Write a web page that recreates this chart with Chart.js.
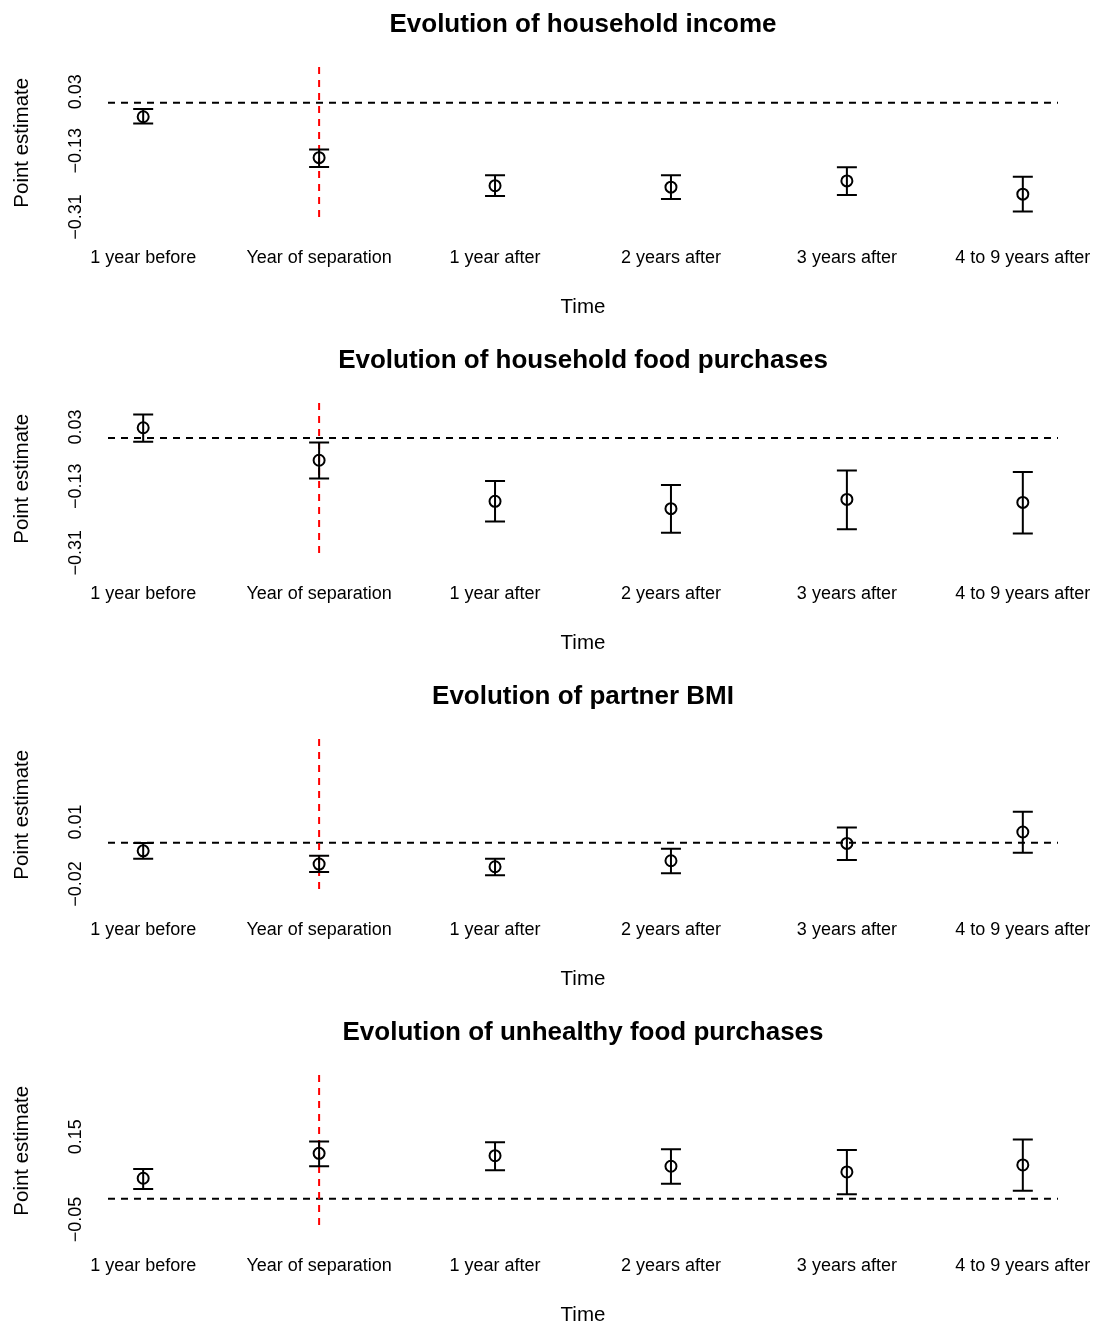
<!DOCTYPE html>
<html>
<head>
<meta charset="utf-8">
<script src="https://cdn.jsdelivr.net/npm/chart.js@4/dist/chart.umd.min.js"></script>
<style>
html,body{margin:0;padding:0;background:#ffffff;overflow:hidden;width:1096px;height:1328px;}
.panel{position:absolute;left:0;width:1096px;height:336px;}
canvas{display:block;}
</style>
</head>
<body>
<div class="panel" style="top:0px"><canvas id="c0" width="1096" height="336"></canvas></div>
<div class="panel" style="top:336px"><canvas id="c1" width="1096" height="336"></canvas></div>
<div class="panel" style="top:672px"><canvas id="c2" width="1096" height="336"></canvas></div>
<div class="panel" style="top:1008px"><canvas id="c3" width="1096" height="336"></canvas></div>
<script>
// ---- Data ----
const categories = ["1 year before", "Year of separation", "1 year after", "2 years after", "3 years after", "4 to 9 years after"];
const panelTitles = ["Evolution of household income", "Evolution of household food purchases", "Evolution of partner BMI", "Evolution of unhealthy food purchases"];
const xAxisTitle = "Time";
const yAxisTitle = "Point estimate";

const incomeEst  = [-0.038, -0.149, -0.225, -0.229, -0.212, -0.248];
const incomeLow  = [-0.056, -0.174, -0.253, -0.261, -0.250, -0.295];
const incomeHigh = [-0.017, -0.127, -0.197, -0.197, -0.175, -0.201];
const incomeTicks = [0.03, -0.13, -0.31];
const incomeRange = [-0.314, 0.097];

const foodEst  = [0.028, -0.060, -0.171, -0.191, -0.166, -0.174];
const foodLow  = [-0.010, -0.109, -0.226, -0.256, -0.247, -0.258];
const foodHigh = [0.064, -0.012, -0.116, -0.127, -0.088, -0.092];
const foodTicks = [0.03, -0.13, -0.31];
const foodRange = [-0.315, 0.095];

const bmiEst  = [-0.0039, -0.0103, -0.0116, -0.0087, -0.0003, 0.0052];
const bmiLow  = [-0.0077, -0.0142, -0.0157, -0.0148, -0.0084, -0.0048];
const bmiHigh = [-0.0001, -0.0063, -0.0077, -0.0029, 0.0074, 0.0150];
const bmiTicks = [0.01, -0.02];
const bmiRange = [-0.0231, 0.0502];

const unhealthyEst  = [0.0496, 0.1098, 0.1040, 0.0786, 0.0648, 0.0817];
const unhealthyLow  = [0.0237, 0.0786, 0.0689, 0.0365, 0.0109, 0.0196];
const unhealthyHigh = [0.0721, 0.1381, 0.1365, 0.1197, 0.1180, 0.1429];
const unhealthyTicks = [0.15, -0.05];
const unhealthyRange = [-0.067, 0.299];

const separationIndex = 2; // "Year of separation"
const referenceValue = 0;

const FONT = "'Liberation Sans', Arial, Helvetica, sans-serif";

// ---- Plugin: reference lines, error bars, title, y tick labels ----
const panelPlugin = {
  id: 'panel',
  beforeDatasetsDraw(chart, args, opts) {
    const {ctx, chartArea: a, scales: {x, y}} = chart;
    ctx.save();
    ctx.lineWidth = 2;
    ctx.lineCap = 'butt';
    ctx.setLineDash([7, 6]);
    ctx.strokeStyle = '#000000';
    const y0 = y.getPixelForValue(referenceValue);
    ctx.beginPath(); ctx.moveTo(a.left, y0); ctx.lineTo(a.right, y0); ctx.stroke();
    ctx.strokeStyle = '#ff0000';
    const xs = x.getPixelForValue(separationIndex);
    ctx.beginPath(); ctx.moveTo(xs, a.top); ctx.lineTo(xs, a.bottom); ctx.stroke();
    ctx.setLineDash([]);
    ctx.strokeStyle = '#000000';
    ctx.lineWidth = 2;
    opts.low.forEach((lo, i) => {
      const hi = opts.high[i];
      const xp = x.getPixelForValue(i + 1);
      const yl = y.getPixelForValue(lo);
      const yh = y.getPixelForValue(hi);
      ctx.beginPath();
      ctx.moveTo(xp, yl); ctx.lineTo(xp, yh);
      ctx.moveTo(xp - 10, yl); ctx.lineTo(xp + 10, yl);
      ctx.moveTo(xp - 10, yh); ctx.lineTo(xp + 10, yh);
      ctx.stroke();
    });
    ctx.restore();
  },
  afterDraw(chart, args, opts) {
    const {ctx, chartArea: a, scales: {y}} = chart;
    ctx.save();
    ctx.fillStyle = '#000000';
    ctx.font = "bold 26px " + FONT;
    ctx.textAlign = 'center';
    ctx.textBaseline = 'alphabetic';
    ctx.fillText(opts.title, (a.left + a.right) / 2, 31.7);
    ctx.font = "18px " + FONT;
    opts.ticks.forEach(v => {
      const yp = y.getPixelForValue(v);
      ctx.save();
      ctx.translate(80.5, yp);
      ctx.rotate(-Math.PI / 2);
      ctx.textAlign = 'center';
      ctx.textBaseline = 'alphabetic';
      ctx.fillText(String(v).replace('-', '\u2212'), 0, 0);
      ctx.restore();
    });
    ctx.restore();
  }
};

function makeChart(id, title, est, low, high, ticks, range) {
  return new Chart(document.getElementById(id), {
    type: 'scatter',
    data: {
      datasets: [{
        data: est.map((v, i) => ({x: i + 1, y: v})),
        pointStyle: 'circle',
        pointRadius: 5.5,
        pointHoverRadius: 5.5,
        borderColor: '#000000',
        backgroundColor: 'rgba(0,0,0,0)',
        borderWidth: 2,
        pointBorderWidth: 2
      }]
    },
    options: {
      responsive: false,
      animation: false,
      devicePixelRatio: 1,
      events: [],
      layout: {padding: {top: 67, right: 38, left: 0, bottom: 0}},
      plugins: {
        legend: {display: false},
        tooltip: {enabled: false},
        title: {display: false},
        panel: {title: title, low: low, high: high, ticks: ticks}
      },
      scales: {
        x: {
          type: 'linear', min: 0.8, max: 6.2,
          grid: {display: false, drawTicks: false},
          border: {display: false},
          afterBuildTicks: s => { s.ticks = categories.map((c, i) => ({value: i + 1})); },
          afterFit: s => { s.height = 117.5; s.paddingLeft = 0; s.paddingRight = 0; },
          ticks: {
            autoSkip: false, maxRotation: 0, minRotation: 0, padding: 28.7,
            color: '#000000', font: {family: FONT, size: 18},
            callback: v => categories[Math.round(v) - 1]
          },
          title: {display: true, text: xAxisTitle, color: '#000000', font: {family: FONT, size: 20.5}, padding: {top: 0, bottom: 16.7}}
        },
        y: {
          min: range[0], max: range[1],
          grid: {display: false, drawTicks: false},
          border: {display: false},
          afterBuildTicks: s => { s.ticks = ticks.map(v => ({value: v})); },
          afterFit: s => { s.width = 108; s.paddingTop = 0; s.paddingBottom = 0; },
          ticks: {display: false},
          title: {display: true, text: yAxisTitle, color: '#000000', font: {family: FONT, size: 20.5}, padding: {top: 9.7, bottom: 0}}
        }
      }
    },
    plugins: [panelPlugin]
  });
}

makeChart('c0', panelTitles[0], incomeEst, incomeLow, incomeHigh, incomeTicks, incomeRange);
makeChart('c1', panelTitles[1], foodEst, foodLow, foodHigh, foodTicks, foodRange);
makeChart('c2', panelTitles[2], bmiEst, bmiLow, bmiHigh, bmiTicks, bmiRange);
makeChart('c3', panelTitles[3], unhealthyEst, unhealthyLow, unhealthyHigh, unhealthyTicks, unhealthyRange);
</script>
</body>
</html>
